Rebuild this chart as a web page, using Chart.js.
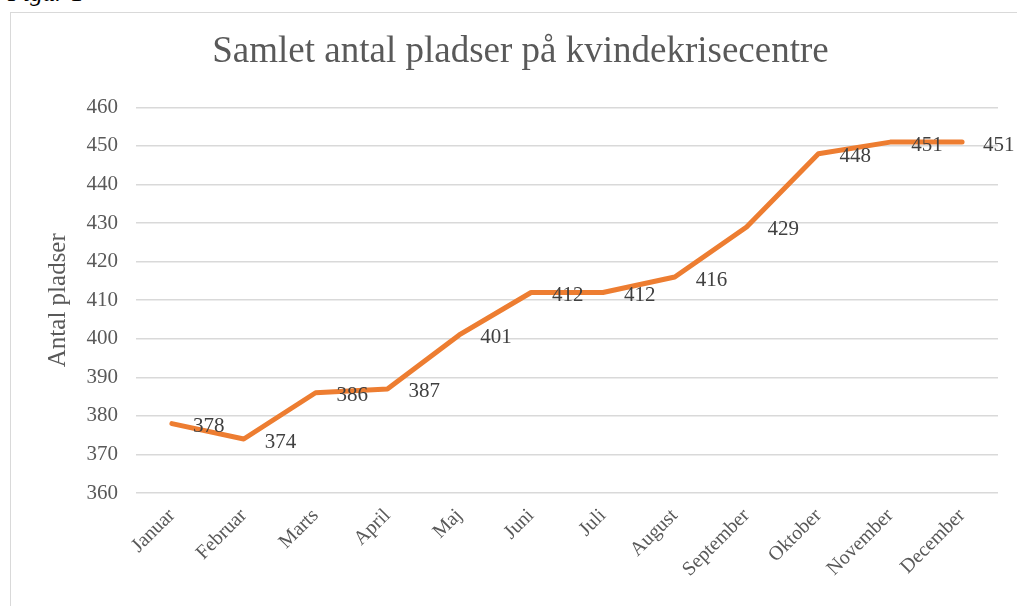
<!DOCTYPE html>
<html>
<head>
<meta charset="utf-8">
<script src="https://cdn.jsdelivr.net/npm/chart.js@4/dist/chart.umd.min.js"></script>
<style>
    html, body { margin: 0; padding: 0; background: #fff; overflow: hidden; }
    body { width: 1017px; height: 606px; position: relative; }
    #caption {
        position: absolute; left: 8px; top: -19px;
        font-family: "Liberation Serif", serif; font-style: italic;
        font-size: 25px; line-height: 24px; color: #000;
    }
    #box {
        position: absolute; left: 10px; top: 12px;
        width: 1020px; height: 600px;
        border: 1px solid #d9d9d9; box-sizing: border-box;
    }
</style>
</head>
<body>
<div id="caption">Figur 1</div>
<div id="box"><canvas id="chart"></canvas></div>
<script>
// Data
const months = ['Januar', 'Februar', 'Marts', 'April', 'Maj', 'Juni',
    'Juli', 'August', 'September', 'Oktober', 'November', 'December'];
const pladser = [378, 374, 386, 387, 401, 412, 412, 416, 429, 448, 451, 451];
const yMin = 360;
const yMax = 460;
const yStep = 10;

const serif = '"Liberation Serif", "DejaVu Serif", serif';

// Value labels to the right of each point (like Excel "Right" position)
const valueLabels = {
    id: 'valueLabels',
    afterDatasetsDraw(chart) {
        const ctx = chart.ctx;
        const meta = chart.getDatasetMeta(0);
        ctx.save();
        ctx.font = '21px ' + serif;
        ctx.fillStyle = '#404040';
        ctx.textAlign = 'left';
        ctx.textBaseline = 'middle';
        meta.data.forEach((pt, i) => {
            ctx.fillText(String(pladser[i]), pt.x + 21, pt.y + 3);
        });
        ctx.restore();
    }
};

const ctx = document.getElementById('chart').getContext('2d');
new Chart(ctx, {
    type: 'line',
    data: {
        labels: months,
        datasets: [{
            label: 'Antal pladser',
            data: pladser,
            borderColor: '#ED7D31',
            borderWidth: 5,
            pointRadius: 0,
            tension: 0,
            borderCapStyle: 'round',
            borderJoinStyle: 'round'
        }]
    },
    options: {
        responsive: true,
        maintainAspectRatio: false,
        animation: false,
        layout: { padding: { left: 32, right: 31, top: 0, bottom: 0 } },
        plugins: {
            legend: { display: false },
            tooltip: { enabled: false },
            title: {
                display: true,
                text: 'Samlet antal pladser på kvindekrisecentre',
                color: '#595959',
                font: { family: serif, size: 37, weight: 'normal' },
                padding: { top: 17, bottom: 33 }
            }
        },
        scales: {
            x: {
                offset: true,
                grid: { display: false, drawTicks: false },
                border: { display: false },
                ticks: {
                    color: '#595959',
                    font: { family: serif, size: 20 },
                    minRotation: 45,
                    maxRotation: 45,
                    padding: 11,
                    autoSkip: false
                },
                afterFit(scale) { scale.height = 118; }
            },
            y: {
                min: yMin,
                max: yMax,
                grid: { color: '#d9d9d9', lineWidth: 1.5, drawTicks: false },
                border: { display: false },
                ticks: {
                    stepSize: yStep,
                    color: '#595959',
                    font: { family: serif, size: 21 },
                    padding: 18
                },
                title: {
                    display: true,
                    text: 'Antal pladser',
                    color: '#595959',
                    font: { family: serif, size: 25 },
                    padding: 0
                },
                afterFit(scale) { scale.width = 93; }
            }
        }
    },
    plugins: [valueLabels]
});
</script>
</body>
</html>
